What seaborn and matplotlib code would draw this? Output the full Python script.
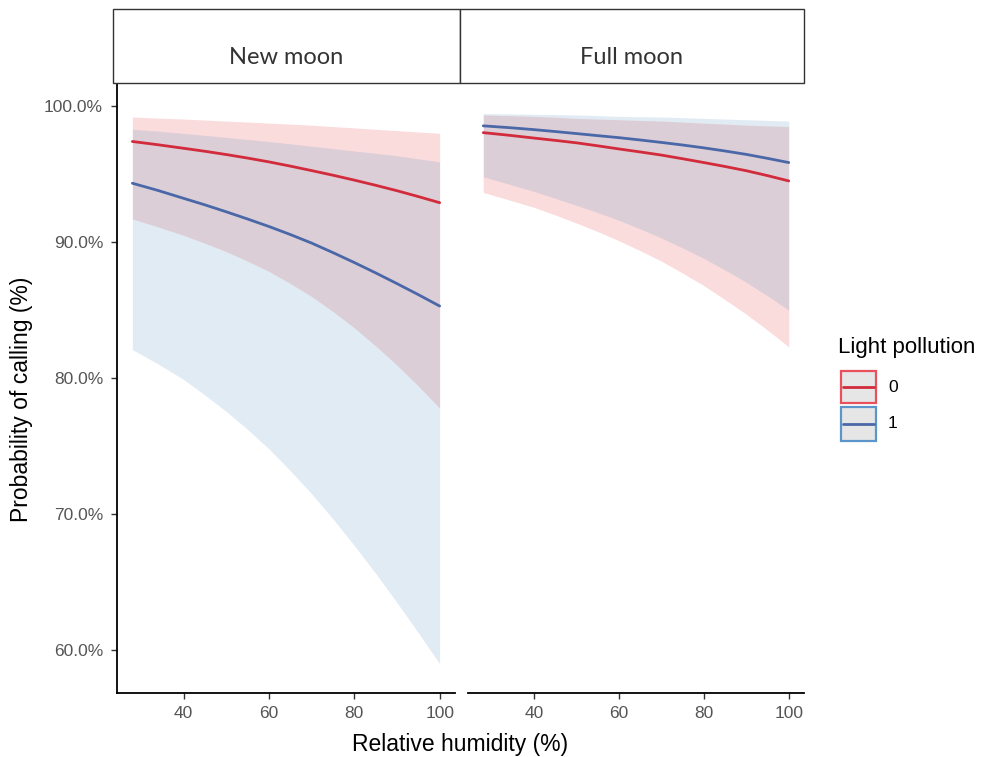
import pandas as pd
import matplotlib
matplotlib.use("Agg")
import matplotlib.pyplot as plt
import seaborn as sns
from matplotlib.patches import Rectangle
from matplotlib.lines import Line2D
from matplotlib.ticker import FuncFormatter

# ---- data (probability of calling, %) ----
humidity = [28, 34, 40, 45, 50, 55, 60, 65, 70, 75, 80, 85, 90, 95, 100]
moon_phases = ["New moon", "Full moon"]
pollution_levels = ["0", "1"]

# New moon
new_fit_0 = [97.40, 97.16, 96.90, 96.68, 96.44, 96.18, 95.90, 95.59,
             95.26, 94.92, 94.56, 94.18, 93.78, 93.35, 92.90]
new_low_0 = [91.70, 91.12, 90.50, 89.92, 89.30, 88.60, 87.85, 86.96,
             86.00, 84.90, 83.70, 82.37, 80.95, 79.42, 77.80]
new_high_0 = [99.20, 99.12, 99.05, 98.98, 98.90, 98.83, 98.75, 98.68,
              98.60, 98.50, 98.40, 98.30, 98.20, 98.10, 98.00]
new_fit_1 = [94.33, 93.80, 93.22, 92.74, 92.23, 91.70, 91.15, 90.56,
             89.93, 89.23, 88.50, 87.74, 86.95, 86.14, 85.30]
new_low_1 = [82.10, 81.05, 79.90, 78.76, 77.55, 76.23, 74.80, 73.20,
             71.50, 69.65, 67.70, 65.65, 63.50, 61.28, 59.00]
new_high_1 = [98.30, 98.16, 98.00, 97.85, 97.70, 97.55, 97.40, 97.23,
              97.05, 96.88, 96.70, 96.53, 96.35, 96.13, 95.90]

# Full moon
full_fit_0 = [98.05, 97.86, 97.65, 97.48, 97.30, 97.08, 96.85, 96.63,
              96.40, 96.13, 95.85, 95.56, 95.25, 94.89, 94.50]
full_low_0 = [93.65, 93.11, 92.55, 91.99, 91.40, 90.77, 90.10, 89.37,
              88.60, 87.72, 86.80, 85.77, 84.70, 83.53, 82.30]
full_high_0 = [99.35, 99.30, 99.25, 99.18, 99.10, 99.05, 99.00, 98.95,
               98.90, 98.83, 98.75, 98.68, 98.60, 98.55, 98.50]
full_fit_1 = [98.55, 98.42, 98.27, 98.13, 97.98, 97.83, 97.68, 97.51,
              97.33, 97.14, 96.93, 96.70, 96.45, 96.16, 95.85]
full_low_1 = [94.80, 94.27, 93.72, 93.22, 92.70, 92.17, 91.60, 90.97,
              90.30, 89.57, 88.80, 87.95, 87.05, 86.05, 85.00]
full_high_1 = [99.45, 99.43, 99.40, 99.38, 99.35, 99.30, 99.25, 99.22,
               99.20, 99.15, 99.10, 99.05, 99.00, 98.95, 98.90]

y_ticks = [60, 70, 80, 90, 100]
x_ticks = [40, 60, 80, 100]

line_colors = {"0": "#D22B3C", "1": "#4A68A8"}
fill_colors = {"0": "#E41A1C", "1": "#377EB8"}
key_edges = {"0": "#E8505B", "1": "#5B95CC"}

# ---- build long table ----
series = {
    ("New moon", "0"): (new_fit_0, new_low_0, new_high_0),
    ("New moon", "1"): (new_fit_1, new_low_1, new_high_1),
    ("Full moon", "0"): (full_fit_0, full_low_0, full_high_0),
    ("Full moon", "1"): (full_fit_1, full_low_1, full_high_1),
}
rows = []
for (phase, lp), (fit, low, high) in series.items():
    for h, f, lo, hi in zip(humidity, fit, low, high):
        rows.append({"phase": phase, "light": lp, "humidity": h,
                     "fit": f, "low": lo, "high": hi})
df = pd.DataFrame(rows)

# ---- style ----
sns.set_style("white")
plt.rcParams["font.family"] = ["Liberation Sans", "DejaVu Sans"]

fig = plt.figure(figsize=(9.86, 7.57), dpi=100)
W, H = 986, 757


def px_axes(x0, x1, y0, y1):
    return fig.add_axes([x0 / W, (H - y1) / H, (x1 - x0) / W, (y1 - y0) / H])


ax_new = px_axes(117, 455, 83, 693)
ax_full = px_axes(468, 804, 83, 693)

for ax, phase in zip([ax_new, ax_full], moon_phases):
    sub = df[df["phase"] == phase]
    for lp in pollution_levels:
        d = sub[sub["light"] == lp]
        ax.fill_between(d["humidity"], d["low"], d["high"],
                        color=fill_colors[lp], alpha=0.15, linewidth=0)
    sns.lineplot(data=sub, x="humidity", y="fit", hue="light",
                 palette=line_colors, hue_order=pollution_levels,
                 linewidth=2, ax=ax, legend=False)
    ax.set_xlim(24.4, 103.6)
    ax.set_ylim(56.85, 101.7)
    ax.set_xticks(x_ticks)
    ax.set_xlabel("")
    ax.set_ylabel("")
    for side in ["top", "right"]:
        ax.spines[side].set_visible(False)
    ax.spines["bottom"].set_color("black")
    ax.spines["bottom"].set_linewidth(1.3)
    ax.tick_params(axis="x", length=4, width=1, color="#333333",
                   labelsize=12.5, labelcolor="#555555", bottom=True, pad=5)

ax_new.set_yticks(y_ticks)
ax_new.yaxis.set_major_formatter(FuncFormatter(lambda v, p: f"{v:.1f}%"))
ax_new.spines["left"].set_color("black")
ax_new.spines["left"].set_linewidth(1.3)
ax_new.tick_params(axis="y", length=4, width=1, color="#333333",
                   labelsize=12.5, labelcolor="#555555", left=True, pad=6)
ax_full.spines["left"].set_visible(False)
ax_full.set_yticks([])

# ---- facet strips ----
for x0, x1, phase in [(113, 460, "New moon"), (460, 804, "Full moon")]:
    fig.add_artist(Rectangle((x0 / W, (H - 83) / H), (x1 - x0) / W, 74 / H,
                             transform=fig.transFigure, facecolor="white",
                             edgecolor="#333333", linewidth=1))
    fig.text((x0 + x1) / 2 / W, (H - 58) / H, phase, ha="center", va="center",
             fontsize=17, color="#333333", family=["Lato", "DejaVu Sans"])

# ---- axis titles ----
fig.text(460 / W, (H - 744) / H, "Relative humidity (%)", ha="center",
         va="center", fontsize=16.5, color="black")
fig.text(22 / W, (H - 399) / H, "Probability of calling (%)", ha="center",
         va="center", rotation=90, fontsize=16.5, color="black")

# ---- legend (drawn as keys with grey boxes, like ggplot) ----
fig.text(838 / W, (H - 348) / H, "Light pollution", ha="left", va="center",
         fontsize=16, color="black")
for lp, top, bottom in [("0", 371, 403), ("1", 407, 441)]:
    fig.add_artist(Rectangle((841 / W, (H - bottom) / H), 35 / W,
                             (bottom - top) / H, transform=fig.transFigure,
                             facecolor="#E6E6E6", edgecolor=key_edges[lp],
                             linewidth=1.6))
    mid = (top + bottom) / 2
    fig.add_artist(Line2D([843 / W, 874 / W], [(H - mid) / H] * 2,
                          transform=fig.transFigure, color=line_colors[lp],
                          linewidth=2))
    fig.text(888 / W, (H - mid) / H, lp, ha="left", va="center",
             fontsize=12.5, color="black")

fig.savefig("out.png", dpi=100)
